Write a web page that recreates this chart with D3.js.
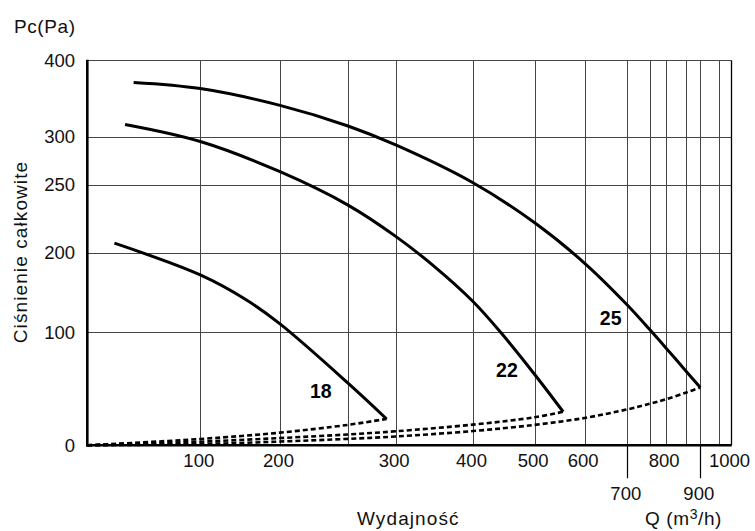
<!DOCTYPE html>
<html>
<head>
<meta charset="utf-8">
<script src="https://cdn.jsdelivr.net/npm/d3@7"></script>
<style>
  html, body { margin: 0; padding: 0; background: #fff; }
  svg { display: block; font-family: "Liberation Sans", Arial, Helvetica, sans-serif; }
</style>
</head>
<body>
<svg id="chart" width="755" height="531"></svg>
<script>
// Flow (m3/h) breakpoints of the chart's non-uniform horizontal grid
const flowBreaks = [0, 100, 200, 250, 300, 400, 500, 600, 700, 750, 800, 850, 900, 950, 1000];
// Pressure (Pa) breakpoints of the non-uniform vertical grid
const pressureBreaks = [0, 100, 200, 250, 300, 400];

// Grid lines and labelled ticks
const flowGrid = [100, 200, 250, 300, 400, 500, 600, 700, 750, 800, 850, 900, 950, 1000];
const flowLabels = [100, 200, 300, 400, 500, 600, 700, 800, 900, 1000];
const flowLowLabels = [700, 900];          // printed on a second row
const pressureGrid = [100, 200, 250, 300, 400];
const pressureLabels = [0, 100, 200, 250, 300, 400];

// Fan characteristics: [flow m3/h, total pressure Pa]
const fanNames = ["18", "22", "25"];
const fan18 = [[24, 207], [100, 172], [158, 140.5], [200, 110.5], [250, 55], [290.5, 23.3]];
const fan22 = [[33.4, 316], [100, 295], [200, 263.5], [250, 235], [300, 212], [349, 183.5], [400, 138.7], [446.5, 98.9], [500, 62.7], [557, 29.7]];
const fan25 = [[41, 371], [100, 363], [200, 341], [250, 314], [300, 291.4], [400, 252], [500, 222], [600, 186.7], [700, 134.3], [750, 103.4], [800, 86.4], [850, 65.4], [900, 51.2]];

// System (duct) curves running from the origin to each fan's last point
const sys18 = [[0, 0], [100, 5.6], [200, 11.2], [250, 18.1], [283.5, 22.4], [290.5, 23.3]];
const sys22 = [[0, 0], [100, 3.2], [200, 6.4], [250, 9.6], [300, 12.4], [400, 18.3], [500, 24.8], [557, 29.7]];
const sys25 = [[0, 0], [100, 1.15], [200, 3.3], [250, 5.7], [300, 7.8], [400, 12.6], [500, 18.1], [600, 24.2], [700, 31.8], [750, 36.7], [800, 40.7], [850, 46.7], [900, 51.2]];

// Fan number labels: [flow, pressure] at the text baseline centre
const fanLabelPos = [[230, 42], [455, 60.7], [661, 109]];

const svg = d3.select("#chart");
const FONT = 18.5;

// Piecewise-linear scales reproducing the printed grid spacing
const x = d3.scaleLinear()
  .domain(flowBreaks)
  .range([87.3, 200.3, 280, 348, 395.7, 473, 534.7, 584.7, 627.3, 649.7, 665.7, 686.3, 700.3, 718.7, 731]);
const y = d3.scaleLinear()
  .domain(pressureBreaks)
  .range([445.3, 332.3, 252.7, 184.7, 136.7, 60.3]);

const [xL, xR] = [x(0), x(1000)];
const [yB, yT] = [y(0), y(400)];
const crisp = v => Math.round(v) + 0.5;

// grid
const grid = svg.append("g").attr("stroke", "#454545").attr("stroke-width", 1);
grid.selectAll("line.v").data(flowGrid.filter(d => d < 1000)).join("line")
  .attr("class", "v")
  .attr("x1", d => crisp(x(d))).attr("x2", d => crisp(x(d)))
  .attr("y1", yT).attr("y2", yB);
grid.selectAll("line.h").data(pressureGrid).join("line")
  .attr("class", "h")
  .attr("x1", xL).attr("x2", xR)
  .attr("y1", d => crisp(y(d))).attr("y2", d => crisp(y(d)));

// right frame edge
svg.append("line")
  .attr("x1", crisp(xR)).attr("x2", crisp(xR))
  .attr("y1", yT).attr("y2", yB)
  .attr("stroke", "#000").attr("stroke-width", 1.3);

// extended ticks for the second-row labels
svg.selectAll("line.low").data(flowLowLabels).join("line")
  .attr("class", "low")
  .attr("x1", d => crisp(x(d))).attr("x2", d => crisp(x(d)))
  .attr("y1", yB).attr("y2", yB + 33)
  .attr("stroke", "#000").attr("stroke-width", 1.2);

// main axes
svg.append("line").attr("x1", xL).attr("x2", xL).attr("y1", yT - 0.5).attr("y2", yB + 1.2)
  .attr("stroke", "#000").attr("stroke-width", 2.6);
svg.append("line").attr("x1", xL - 1.2).attr("x2", xR + 0.7).attr("y1", yB).attr("y2", yB)
  .attr("stroke", "#000").attr("stroke-width", 2.6);

// y labels
svg.append("g").selectAll("text").data(pressureLabels).join("text")
  .attr("x", 75).attr("y", d => y(d)).attr("dy", "0.36em")
  .attr("text-anchor", "end").attr("font-size", FONT).attr("fill", "#111")
  .text(d => d);

// x labels
svg.append("g").selectAll("text").data(flowLabels).join("text")
  .attr("x", d => x(d) - 1.5)
  .attr("y", d => flowLowLabels.includes(d) ? yB + 54.5 : yB + 22)
  .attr("text-anchor", "middle").attr("font-size", FONT).attr("fill", "#111")
  .text(d => d);

// titles
svg.append("text").attr("x", 14).attr("y", 32.7).attr("font-size", 19).attr("fill", "#111")
  .attr("letter-spacing", 0.6).text("Pc(Pa)");
svg.append("text")
  .attr("transform", "translate(26.5,252) rotate(-90)")
  .attr("text-anchor", "middle").attr("font-size", 19).attr("letter-spacing", 1.1).attr("fill", "#111")
  .text("Ciśnienie całkowite");
svg.append("text").attr("x", 357).attr("y", 525).attr("font-size", 19).attr("letter-spacing", 1.1)
  .attr("fill", "#111").text("Wydajność");
const q = svg.append("text").attr("x", 645).attr("y", 525).attr("font-size", 19).attr("letter-spacing", 0.6).attr("fill", "#111");
q.append("tspan").text("Q (m");
q.append("tspan").attr("font-size", 14).attr("dy", -6).text("3");
q.append("tspan").attr("dy", 6).text("/h)");

// curves
const line = d3.line().x(d => x(d[0])).y(d => y(d[1])).curve(d3.curveCatmullRom.alpha(0.5));

const systems = [sys18, sys22, sys25];
svg.append("g").selectAll("path").data(systems).join("path")
  .attr("d", line).attr("fill", "none").attr("stroke", "#000")
  .attr("stroke-width", 2.6).attr("stroke-dasharray", "5,3");

const fans = [fan18, fan22, fan25];
svg.append("g").selectAll("path").data(fans).join("path")
  .attr("d", line).attr("fill", "none").attr("stroke", "#000")
  .attr("stroke-width", 3).attr("stroke-linecap", "butt");

// fan labels
svg.append("g").selectAll("text").data(fanNames).join("text")
  .attr("x", (d, i) => x(fanLabelPos[i][0]))
  .attr("y", (d, i) => y(fanLabelPos[i][1]))
  .attr("text-anchor", "middle").attr("font-size", 19.5).attr("font-weight", "bold").attr("fill", "#000")
  .text(d => d);
</script>
</body>
</html>
